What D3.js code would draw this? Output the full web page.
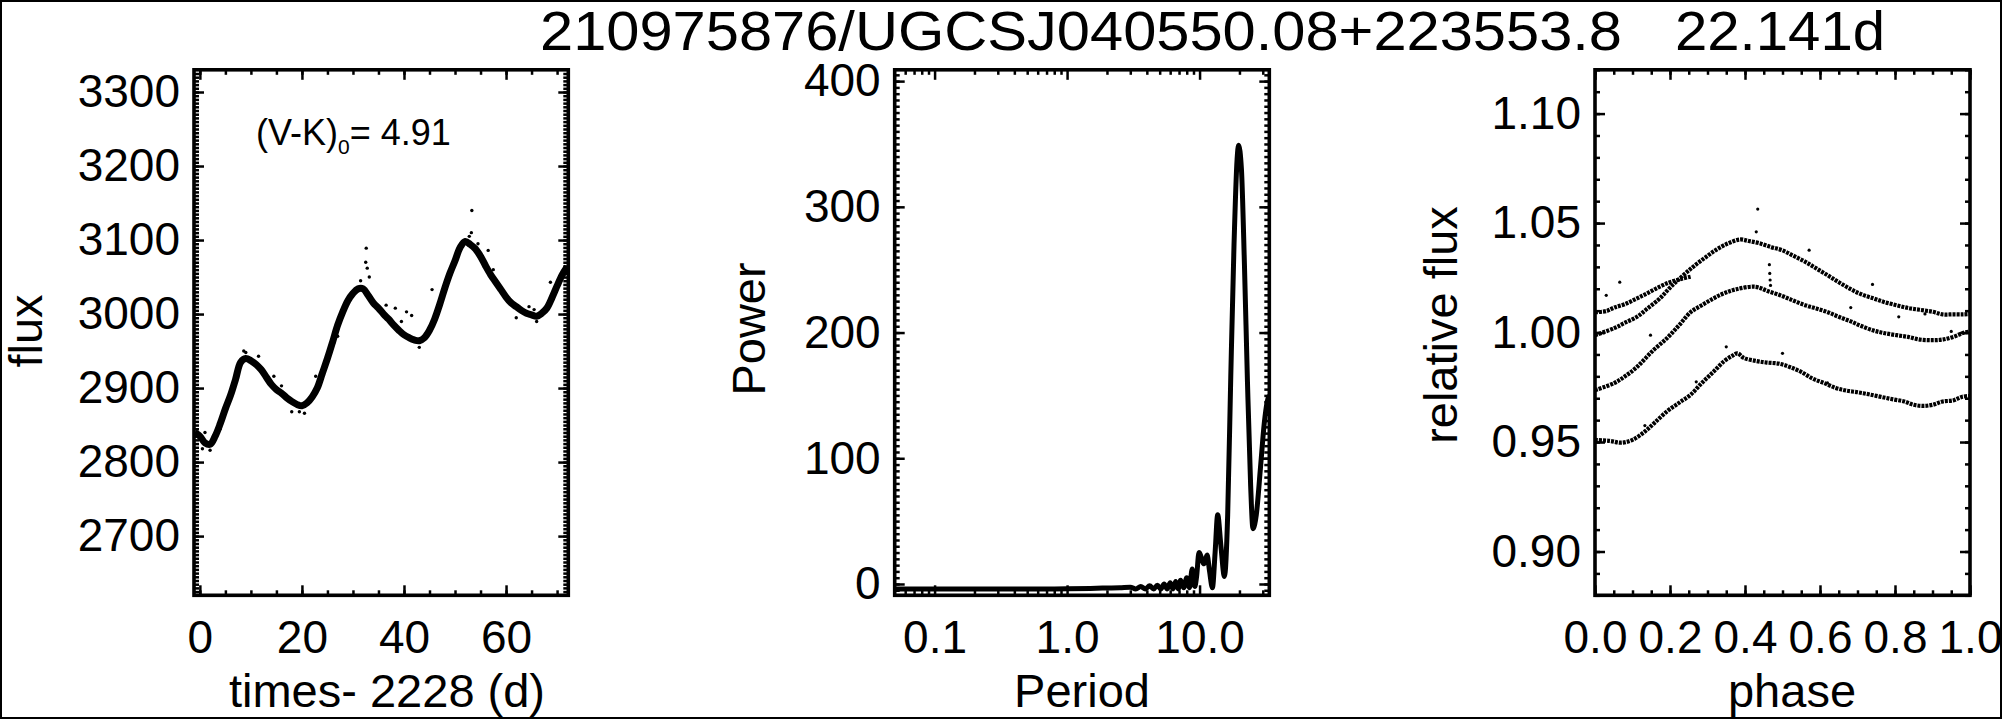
<!DOCTYPE html>
<html>
<head>
<meta charset="utf-8">
<script src="https://cdn.jsdelivr.net/npm/d3@7"></script>
<style>
  body { margin: 0; background: #fff; }
  svg text { font-family: "Liberation Sans", Arial, Helvetica, sans-serif; fill: #000; }
</style>
</head>
<body>
<svg id="chart" width="2005" height="720"></svg>
<script>
// ---------------- DATA ----------------
// Panel 1: light curve (time - 2228 d, flux)
const lcTime = [-1.0, 0.0, 1.0, 2.0, 3.0, 4.0, 5.0, 6.0, 7.0, 8.0, 9.0, 10.0, 11.0, 12.0, 13.0, 14.0, 15.0, 16.0, 17.0, 18.0,
  19.0, 20.0, 21.0, 22.0, 23.0, 24.0, 25.0, 26.0, 27.0, 28.0, 29.0, 30.0, 31.0, 32.0, 33.0, 34.0, 35.0, 36.0, 37.0, 38.0,
  39.0, 40.0, 41.0, 42.0, 43.0, 44.0, 45.0, 46.0, 47.0, 48.0, 49.0, 50.0, 51.0, 52.0, 53.0, 54.0, 55.0, 56.0, 57.0, 58.0,
  59.0, 60.0, 61.0, 62.0, 63.0, 64.0, 65.0, 66.0, 67.0, 68.0, 69.0, 70.0, 71.0, 72.0];
const lcFlux = [2840, 2835, 2826, 2824, 2835, 2852, 2872, 2890, 2912, 2935, 2940, 2937, 2932, 2925, 2915, 2905, 2898, 2893, 2887, 2882,
  2878, 2876, 2880, 2888, 2900, 2920, 2940, 2962, 2985, 3003, 3018, 3028, 3034, 3034, 3025, 3015, 3008, 3000, 2993, 2985,
  2978, 2972, 2968, 2965, 2964, 2968, 2978, 2993, 3013, 3035, 3055, 3072, 3090, 3098, 3094, 3088, 3078, 3065, 3053, 3043,
  3033, 3023, 3015, 3010, 3005, 3001, 2999, 2997, 3001, 3008, 3022, 3038, 3053, 3064];
const lcOutTime = [32.6, 32.5, 32.8, 31.5, 33.2, 53.3, 53.2, 52.8, 54.5, 56.5, 40.5, 41.5, 38.3, 45.5, 9.0, 8.6, 11.5, 16.0,
  18.0, 19.5, 22.7, 27.0, 36.5, 39.5, 62.0, 64.5, 68.7, 70.5, 57.5, 1.0, 0.5, 2.0, 4.0, 20.5, 43.0, 66.0, 65.5, 14.5, 24.5];
const lcOutFlux = [3089, 3070, 3062, 3045, 3050, 3140, 3110, 3105, 3095, 3086, 3003, 2998, 3008, 3033, 2948, 2950, 2943, 2903,
  2868, 2868, 2916, 2970, 3012, 2990, 2995, 3010, 3043, 3045, 3060, 2840, 2818, 2816, 2845, 2866, 2955, 2990, 3006, 2916, 2932];

// Panel 2: periodogram (period, power)
const perPeriod = [0.05, 0.08, 0.12, 0.2, 0.35, 0.6, 1.0, 1.5, 2.0, 2.5, 3.0, 3.3, 3.6, 3.9, 4.2, 4.5, 4.8, 5.1, 5.4, 5.7,
  6.0, 6.3, 6.6, 6.9, 7.2, 7.6, 8.0, 8.4, 8.8, 9.2, 9.5, 9.9, 10.8, 11.4, 11.9, 12.5, 13.1, 13.7, 14.5, 15.4,
  16.3, 17.2, 18.2, 19.2, 19.7, 20.7, 21.8, 23.0, 24.3, 25.3, 26.8, 28.8, 30.8, 32.4, 33.6];
const perPower = [-4, -4, -4, -4, -4, -4, -3.8, -3.5, -3.2, -3, -2.5, -4, -2, -4, -1.5, -4, -1, -4, 0, -4,
  1, -4, 2, -4, 3, -3, 5, -3, 12, -2, 6, 25, 16, 23, 10, -3, 25, 55, 30, 6,
  55, 165, 270, 338, 349, 330, 255, 160, 78, 44, 55, 92, 128, 145, 150];

// Panel 3: phase-folded light curve, one track per cycle
const phaseA = [0.0, 0.03, 0.051, 0.08, 0.112, 0.14, 0.173, 0.2, 0.23, 0.255];
const relA = [1.0093, 1.0098, 1.0114, 1.013, 1.0156, 1.018, 1.021, 1.023, 1.0245, 1.0255];
const phaseB = [0.0, 0.051, 0.08, 0.112, 0.14, 0.173, 0.2, 0.235, 0.265, 0.296, 0.325, 0.356, 0.387, 0.41, 0.438, 0.47, 0.499,
  0.53, 0.56, 0.59, 0.621, 0.65, 0.682, 0.71, 0.743, 0.77, 0.804, 0.835, 0.866, 0.9, 0.927, 0.955, 0.983, 1.0];
const relB = [0.9988, 1.002, 1.0045, 1.0072, 1.011, 1.0156, 1.0205, 1.0261, 1.0305, 1.0345, 1.038, 1.0408, 1.0425, 1.0418, 1.0408, 1.039, 1.0376,
  1.035, 1.0324, 1.0293, 1.0261, 1.023, 1.0198, 1.0175, 1.0156, 1.014, 1.0125, 1.0112, 1.0104, 1.0095, 1.0083, 1.0083, 1.0083, 1.0085];
const phaseC = [0.0, 0.051, 0.08, 0.112, 0.153, 0.194, 0.225, 0.255, 0.285, 0.316, 0.345, 0.377, 0.428, 0.46, 0.499, 0.53,
  0.56, 0.59, 0.621, 0.65, 0.682, 0.71, 0.743, 0.77, 0.804, 0.835, 0.866, 0.9, 0.927, 0.955, 0.983, 1.0];
const relC = [0.9737, 0.9769, 0.980, 0.9843, 0.9915, 0.9978, 1.0035, 1.0093, 1.0125, 1.0156, 1.018, 1.0198, 1.0209, 1.019, 1.0167, 1.0145,
  1.0125, 1.011, 1.0093, 1.0072, 1.0051, 1.003, 1.0009, 0.9998, 0.9988, 0.998, 0.9968, 0.9965, 0.9968, 0.998, 0.9999, 1.0005];
const phaseD = [0.0, 0.04, 0.07, 0.10, 0.133, 0.16, 0.194, 0.225, 0.255, 0.285, 0.316, 0.345, 0.367, 0.38, 0.397, 0.43, 0.458,
  0.49, 0.519, 0.55, 0.58, 0.61, 0.642, 0.67, 0.702, 0.73, 0.763, 0.795, 0.825, 0.85, 0.875, 0.9, 0.927, 0.955, 0.978, 1.0];
const relD = [0.951, 0.9505, 0.9497, 0.951, 0.9548, 0.959, 0.9643, 0.968, 0.9716, 0.977, 0.9821, 0.987, 0.9895, 0.9905, 0.9884, 0.987, 0.9863,
  0.9858, 0.9843, 0.982, 0.979, 0.977, 0.9747, 0.9735, 0.9727, 0.9718, 0.9706, 0.9695, 0.9685, 0.967, 0.9665, 0.967, 0.9685, 0.969, 0.9706, 0.971];
const outPhase = [0.434, 0.43, 0.465, 0.466, 0.467, 0.468, 0.571, 0.682, 0.81, 0.066, 0.03, 0.148, 0.133, 0.74, 0.5, 0.35, 0.88, 0.95, 0.62, 0.27];
const outRel = [1.0564, 1.046, 1.031, 1.027, 1.024, 1.0215, 1.0376, 1.0114, 1.0072, 1.023, 1.017, 0.9988, 0.9575, 1.022, 0.9905, 0.9935, 1.0085, 1.0005, 0.977, 0.9775];

// Axis ticks and labels
const p1XTicks = [0, 20, 40, 60];
const p1YTicks = [2700, 2800, 2900, 3000, 3100, 3200, 3300];
const p2XTicks = [0.1, 1, 10];
const p2XLabels = ["0.1", "1.0", "10.0"];
const p2YTicks = [0, 100, 200, 300, 400];
const p3XTicks = [0, 0.2, 0.4, 0.6, 0.8, 1.0];
const p3XLabels = ["0.0", "0.2", "0.4", "0.6", "0.8", "1.0"];
const p3YTicks = [0.90, 0.95, 1.00, 1.05, 1.10];
const p3YLabels = ["0.90", "0.95", "1.00", "1.05", "1.10"];

const titleMain = "210975876/UGCSJ040550.08+223553.8";
const titlePeriod = "22.141d";

// ---------------- LAYOUT ----------------
const svg = d3.select("#chart");
const TOP = 69.8, BOT = 595.3;
const panels = [
  { x0: 194.0, x1: 568.3 },
  { x0: 894.7, x1: 1269.3 },
  { x0: 1595.0, x1: 1970.0 }
];
const TICK_FS = 46, TITLE_FS = 47;

svg.append("rect").attr("x", 1).attr("y", 1).attr("width", 2000).attr("height", 717)
  .attr("fill", "none").attr("stroke", "#000").attr("stroke-width", 2);

// scales
const x1 = d3.scaleLinear().domain([-1.15, 72.2]).range([panels[0].x0, panels[0].x1]);
const y1 = d3.scaleLinear().domain([2620, 3330]).range([BOT, TOP]);
const x2 = d3.scaleLog().domain([0.05, 33.6]).range([panels[1].x0, panels[1].x1]);
const y2 = d3.scaleLinear().domain([-9, 409]).range([BOT, TOP]);
const x3 = d3.scaleLinear().domain([0, 1]).range([panels[2].x0, panels[2].x1]);
const y3 = d3.scaleLinear().domain([0.88, 1.12]).range([BOT, TOP]);

function clip(id, p) {
  svg.append("clipPath").attr("id", id).append("rect")
    .attr("x", p.x0).attr("y", TOP).attr("width", p.x1 - p.x0).attr("height", BOT - TOP);
}
clip("c1", panels[0]); clip("c2", panels[1]); clip("c3", panels[2]);

// ---------- Panel 1 data ----------
const g1 = svg.append("g").attr("clip-path", "url(#c1)");
const lc = lcTime.map((t, i) => [t, lcFlux[i]]);
g1.append("path").datum(lc)
  .attr("d", d3.line().x(d => x1(d[0])).y(d => y1(d[1])).curve(d3.curveCatmullRom))
  .attr("fill", "none").attr("stroke", "#000").attr("stroke-width", 7)
  .attr("stroke-linejoin", "round");
g1.selectAll("circle.o").data(lcOutTime.map((t, i) => [t, lcOutFlux[i]])).join("circle")
  .attr("cx", d => x1(d[0])).attr("cy", d => y1(d[1])).attr("r", 1.7).attr("fill", "#000");

// ---------- Panel 2 data ----------
const g2 = svg.append("g").attr("clip-path", "url(#c2)");
const per = perPeriod.map((p, i) => [p, perPower[i]]);
g2.append("path").datum(per)
  .attr("d", d3.line().x(d => x2(d[0])).y(d => y2(d[1])).curve(d3.curveMonotoneX))
  .attr("fill", "none").attr("stroke", "#000").attr("stroke-width", 5)
  .attr("stroke-linejoin", "round");

// ---------- Panel 3 data ----------
const g3 = svg.append("g").attr("clip-path", "url(#c3)");
const tracks = [[phaseA, relA], [phaseB, relB], [phaseC, relC], [phaseD, relD]];
tracks.forEach(([ph, rf]) => {
  g3.append("path").datum(ph.map((p, i) => [p, rf[i]]))
    .attr("d", d3.line().x(d => x3(d[0])).y(d => y3(d[1])).curve(d3.curveCatmullRom))
    .attr("fill", "none").attr("stroke", "#000").attr("stroke-width", 4.2)
    .attr("stroke-dasharray", "3,1");
});
g3.selectAll("circle.o").data(outPhase.map((p, i) => [p, outRel[i]])).join("circle")
  .attr("cx", d => x3(d[0])).attr("cy", d => y3(d[1])).attr("r", 1.6).attr("fill", "#000");

// ---------- Axes ----------
function styleAxis(g) {
  g.select(".domain").remove();
  g.selectAll(".tick line").attr("stroke", "#000").attr("stroke-width", 2.5);
  g.selectAll(".tick text").attr("font-size", TICK_FS).attr("fill", "#000")
    .attr("font-family", '"Liberation Sans", Arial, Helvetica, sans-serif');
}
function axes(p, xs, ys, xMaj, xMin, yMaj, yMin, xFmt, yFmt) {
  const MAJ = 10, MIN = 5;
  svg.append("g").attr("transform", `translate(0,${BOT})`)
    .call(d3.axisBottom(xs).tickValues(xMin).tickSize(-MIN).tickFormat("")).call(styleAxis);
  svg.append("g").attr("transform", `translate(0,${BOT})`)
    .call(d3.axisBottom(xs).tickValues(xMaj).tickSize(-MAJ).tickPadding(25).tickFormat(xFmt)).call(styleAxis);
  svg.append("g").attr("transform", `translate(0,${TOP})`)
    .call(d3.axisTop(xs).tickValues(xMin).tickSize(-MIN).tickFormat("")).call(styleAxis);
  svg.append("g").attr("transform", `translate(0,${TOP})`)
    .call(d3.axisTop(xs).tickValues(xMaj).tickSize(-MAJ).tickFormat("")).call(styleAxis);
  svg.append("g").attr("transform", `translate(${p.x0},0)`)
    .call(d3.axisLeft(ys).tickValues(yMin).tickSize(-MIN).tickFormat("")).call(styleAxis);
  svg.append("g").attr("transform", `translate(${p.x0},0)`)
    .call(d3.axisLeft(ys).tickValues(yMaj).tickSize(-MAJ).tickPadding(14).tickFormat(yFmt)).call(styleAxis);
  svg.append("g").attr("transform", `translate(${p.x1},0)`)
    .call(d3.axisRight(ys).tickValues(yMin).tickSize(-MIN).tickFormat("")).call(styleAxis);
  svg.append("g").attr("transform", `translate(${p.x1},0)`)
    .call(d3.axisRight(ys).tickValues(yMaj).tickSize(-MAJ).tickFormat("")).call(styleAxis);
  svg.append("rect").attr("x", p.x0).attr("y", TOP).attr("width", p.x1 - p.x0).attr("height", BOT - TOP)
    .attr("fill", "none").attr("stroke", "#000").attr("stroke-width", 3.6);
}

// minor tick positions
const p1XMinor = d3.range(0, 72.2, 5);
const p1YMinor = d3.range(2625, 3330, 5);
const p2XMinor = [];
[0.01, 0.1, 1, 10].forEach(dec => { for (let k = 2; k <= 9; k++) { const v = k * dec; if (v > 0.05 && v < 33.6) p2XMinor.push(v); } });
const p2YMinor = d3.range(-5, 409, 5);
const p3XMinor = d3.range(0, 1.0001, 0.05);
const p3YMinor = d3.range(0.88, 1.12, 0.01);

axes(panels[0], x1, y1, p1XTicks, p1XMinor, p1YTicks, p1YMinor, d => String(d), d => String(d));
axes(panels[1], x2, y2, p2XTicks, p2XMinor, p2YTicks, p2YMinor, (d, i) => p2XLabels[i], d => String(d));
axes(panels[2], x3, y3, p3XTicks, p3XMinor, p3YTicks, p3YMinor, (d, i) => p3XLabels[i], (d, i) => p3YLabels[i]);

// ---------- Axis titles ----------
function xTitle(text, cx) {
  svg.append("text").attr("x", cx).attr("y", 707).attr("text-anchor", "middle")
    .attr("font-size", TITLE_FS).text(text);
}
function yTitle(text, bx, cy) {
  svg.append("text").attr("transform", `translate(${bx},${cy}) rotate(-90)`)
    .attr("text-anchor", "middle").attr("font-size", TITLE_FS).text(text);
}
xTitle("times- 2228 (d)", 387);
xTitle("Period", 1082);
xTitle("phase", 1792);
yTitle("flux", 42, 331);
yTitle("Power", 765, 329);
yTitle("relative flux", 1457, 325);

// annotation
const ann = svg.append("text").attr("x", 256).attr("y", 145).attr("font-size", 36);
ann.append("tspan").text("(V-K)");
ann.append("tspan").attr("font-size", 21).attr("dy", 9).text("0");
ann.append("tspan").attr("dy", -9).text("= 4.91");

// title
svg.append("text").attr("x", 540).attr("y", 50).attr("font-size", 55)
  .attr("textLength", 1082).attr("lengthAdjust", "spacingAndGlyphs").text(titleMain);
svg.append("text").attr("x", 1675).attr("y", 50).attr("font-size", 55)
  .attr("textLength", 210).attr("lengthAdjust", "spacingAndGlyphs").text(titlePeriod);
</script>
</body>
</html>
